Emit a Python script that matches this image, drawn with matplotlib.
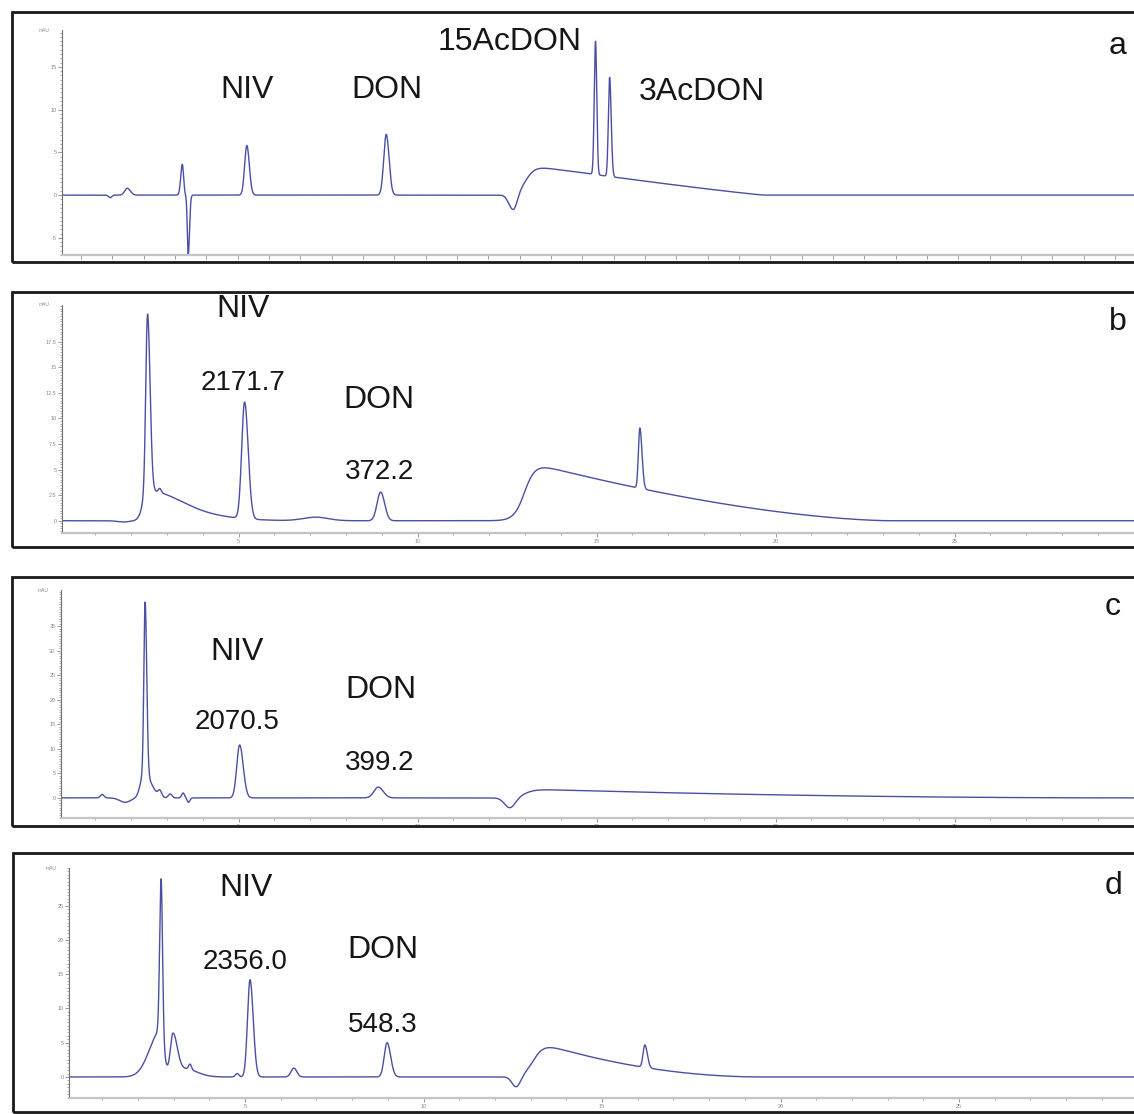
import numpy as np
import matplotlib
matplotlib.use("Agg")
from matplotlib import pyplot as plt
from matplotlib.patches import Rectangle
from matplotlib.ticker import FixedLocator, MultipleLocator, AutoMinorLocator

plt.rcParams['font.family'] = ['Liberation Sans', 'DejaVu Sans']

W, H = 1134, 1114   # canvas in pixels
DPI = 100

TRACE_COLOR = '#4b4fa3'
TEXT_COLOR = '#161616'
AXIS_COLOR = '#8a8a8a'

# ---- peak tables: retention time (min), height (mAU), left / right sigma (min)
# a : standard mix
a_peak_t = [1.93, 2.47, 4.23, 4.42, 6.29, 10.74, 14.80, 17.42, 17.87]
a_peak_h = [-0.3, 0.8, 3.6, -6.9, 5.8, 7.1, -1.9, 15.6, 11.6]
a_peak_wl = [0.05, 0.08, 0.05, 0.03, 0.07, 0.08, 0.14, 0.04, 0.04]
a_peak_wr = [0.05, 0.10, 0.04, 0.04, 0.08, 0.09, 0.12, 0.04, 0.05]
a_hump = (15.2, 3.5, 22.8, 1.1)   # gradient hump: onset, level, end, curvature

# b : sample 1
b_peak_t = [1.80, 2.45, 2.46, 2.80, 4.00, 5.17, 7.15, 8.97, 16.21]
b_peak_h = [-0.15, 2.8, 17.3, 0.4, 0.35, 11.4, 0.35, 2.8, 5.9]
b_peak_wl = [0.20, 0.12, 0.05, 0.04, 1.00, 0.08, 0.35, 0.10, 0.04]
b_peak_wr = [0.20, 0.90, 0.07, 0.04, 1.00, 0.10, 0.35, 0.11, 0.06]
b_hump = (13.0, 5.8, 23.2, 1.6)

# c : sample 2
c_peak_t = [1.19, 1.83, 2.36, 2.39, 2.80, 3.09, 3.45, 3.60, 5.03, 8.90, 12.58]
c_peak_h = [0.7, -0.9, 5.0, 35.0, 1.2, 0.8, 1.0, -0.9, 10.8, 2.2, -2.1]
c_peak_wl = [0.05, 0.15, 0.10, 0.035, 0.05, 0.05, 0.04, 0.04, 0.08, 0.12, 0.15]
c_peak_wr = [0.05, 0.15, 0.20, 0.045, 0.05, 0.05, 0.04, 0.04, 0.10, 0.14, 0.15]
c_hump = (13.0, 1.8, 30.0, 2.0)

# d : sample 3
d_peak_t = [2.62, 2.65, 2.98, 3.30, 3.46, 4.78, 5.14, 6.37, 8.98, 12.60, 16.20]
d_peak_h = [6.5, 22.5, 5.6, 1.2, 0.8, 0.5, 14.2, 1.3, 5.0, -1.6, 3.3]
d_peak_wl = [0.30, 0.04, 0.07, 0.35, 0.04, 0.05, 0.07, 0.08, 0.08, 0.12, 0.05]
d_peak_wr = [0.10, 0.04, 0.12, 0.35, 0.04, 0.05, 0.09, 0.08, 0.10, 0.12, 0.07]
d_hump = (13.1, 5.2, 19.5, 2.0)

# ---- peak labels: text, x (min), y (mAU), font size
a_labels = [("NIV", 6.29, 12.3, 23), ("DON", 10.76, 12.3, 23),
            ("15AcDON", 14.67, 17.9, 23), ("3AcDON", 20.8, 12.0, 23)]
b_labels = [("NIV", 5.12, 20.7, 23), ("2171.7", 5.12, 13.45, 20),
            ("DON", 8.93, 11.8, 23), ("372.2", 8.93, 4.75, 20)]
c_labels = [("NIV", 4.96, 29.7, 23), ("2070.5", 4.96, 15.4, 20),
            ("DON", 8.98, 22.0, 23), ("399.2", 8.95, 7.1, 20)]
d_labels = [("NIV", 5.03, 27.6, 23), ("2356.0", 5.0, 16.8, 20),
            ("DON", 8.87, 18.5, 23), ("548.3", 8.87, 7.6, 20)]

# ---- tick values for each panel
a_yticks = [-5, 0, 5, 10, 15]
b_yticks = [0, 2.5, 5, 7.5, 10, 12.5, 15, 17.5]
c_yticks = [0, 5, 10, 15, 20, 25, 30, 35]
d_yticks = [0, 5, 10, 15, 20, 25]
time_ticks = [5, 10, 15, 20, 25]


def build_trace(t, pk_t, pk_h, pk_wl, pk_wr, hump):
    y = np.zeros_like(t)
    for t0, h, wl, wr in zip(pk_t, pk_h, pk_wl, pk_wr):
        w = np.where(t < t0, wl, wr)
        y += h * np.exp(-0.5 * ((t - t0) / w) ** 2)
    t_on, level, t_off, p = hump
    rise = 1.0 / (1.0 + np.exp(-(t - t_on) / 0.15))
    fall = np.clip((t_off - t) / (t_off - t_on), 0, 1) ** p
    y += level * rise * fall
    return y


def px_axes(fig, x0, x1, ytop, ybot):
    # pixel box -> figure fraction
    return fig.add_axes([x0 / W, 1 - ybot / H, (x1 - x0) / W, (ybot - ytop) / H])


def draw_panel(fig, box, frame, xlim, ylim, pk, hump, yticks, labels,
               letter, letter_xy, xlabels=True):
    ax = px_axes(fig, *box)
    # outer frame, runs off the right edge
    fig.patches.append(Rectangle((frame[0] / W, 1 - frame[2] / H),
                                 (1200 - frame[0]) / W, (frame[2] - frame[1]) / H,
                                 transform=fig.transFigure, fill=False,
                                 edgecolor='#1a1a1a', lw=2.0, zorder=5))

    t = np.linspace(xlim[0], xlim[1], 8000)
    ax.plot(t, build_trace(t, *pk, hump), color=TRACE_COLOR, lw=1.0)
    ax.set_xlim(*xlim)
    ax.set_ylim(*ylim)

    for s in ['top', 'right']:
        ax.spines[s].set_visible(False)
    ax.spines['left'].set_color('#707070')
    ax.spines['left'].set_linewidth(0.8)
    ax.spines['bottom'].set_color('#c4c4c4')
    ax.spines['bottom'].set_linewidth(1.6)
    ax.patch.set_alpha(0)

    ax.set_yticks(yticks)
    ax.set_yticklabels([("%g" % v) for v in yticks])
    ax.yaxis.set_minor_locator(AutoMinorLocator(10))
    ax.xaxis.set_minor_locator(MultipleLocator(1))
    if xlabels:
        ax.xaxis.set_major_locator(FixedLocator(time_ticks))
    else:
        ax.xaxis.set_major_locator(MultipleLocator(1))
        ax.set_xticklabels([])
    ax.tick_params(axis='both', which='major', length=3, width=0.6,
                   colors=AXIS_COLOR, labelsize=4, pad=1)
    ax.tick_params(axis='both', which='minor', length=1.5, width=0.5,
                   colors=AXIS_COLOR)

    ax.text(-0.012, 1.0, "mAU", transform=ax.transAxes, ha='right', va='center',
            fontsize=3.5, color=AXIS_COLOR)

    for txt, lx, ly, fs in labels:
        ax.text(lx, ly, txt, ha='center', va='center', fontsize=fs,
                color=TEXT_COLOR, clip_on=False)
    fig.text(letter_xy[0] / W, 1 - letter_xy[1] / H, letter, ha='center',
             va='center', fontsize=23, color=TEXT_COLOR)
    return ax


fig = plt.figure(figsize=(W / DPI, H / DPI), dpi=DPI)

draw_panel(fig, (62, 1140, 30, 255), (12, 12, 262), (0.39, 34.8), (-7.0, 19.3),
           (a_peak_t, a_peak_h, a_peak_wl, a_peak_wr), a_hump, a_yticks,
           a_labels, "a", (1118, 46), xlabels=False)
draw_panel(fig, (62, 1140, 305, 533), (12, 292, 547), (0.07, 30.18), (-1.2, 21.1),
           (b_peak_t, b_peak_h, b_peak_wl, b_peak_wr), b_hump, b_yticks,
           b_labels, "b", (1118, 322))
draw_panel(fig, (61, 1140, 590, 818), (12, 577, 826), (0.04, 30.18), (-4.1, 42.4),
           (c_peak_t, c_peak_h, c_peak_wl, c_peak_wr), c_hump, c_yticks,
           c_labels, "c", (1113, 607))
draw_panel(fig, (69, 1140, 868, 1098), (13, 853, 1112), (0.07, 30.07), (-3.07, 30.5),
           (d_peak_t, d_peak_h, d_peak_wl, d_peak_wr), d_hump, d_yticks,
           d_labels, "d", (1114, 886))

fig.savefig("out.png", dpi=DPI)
